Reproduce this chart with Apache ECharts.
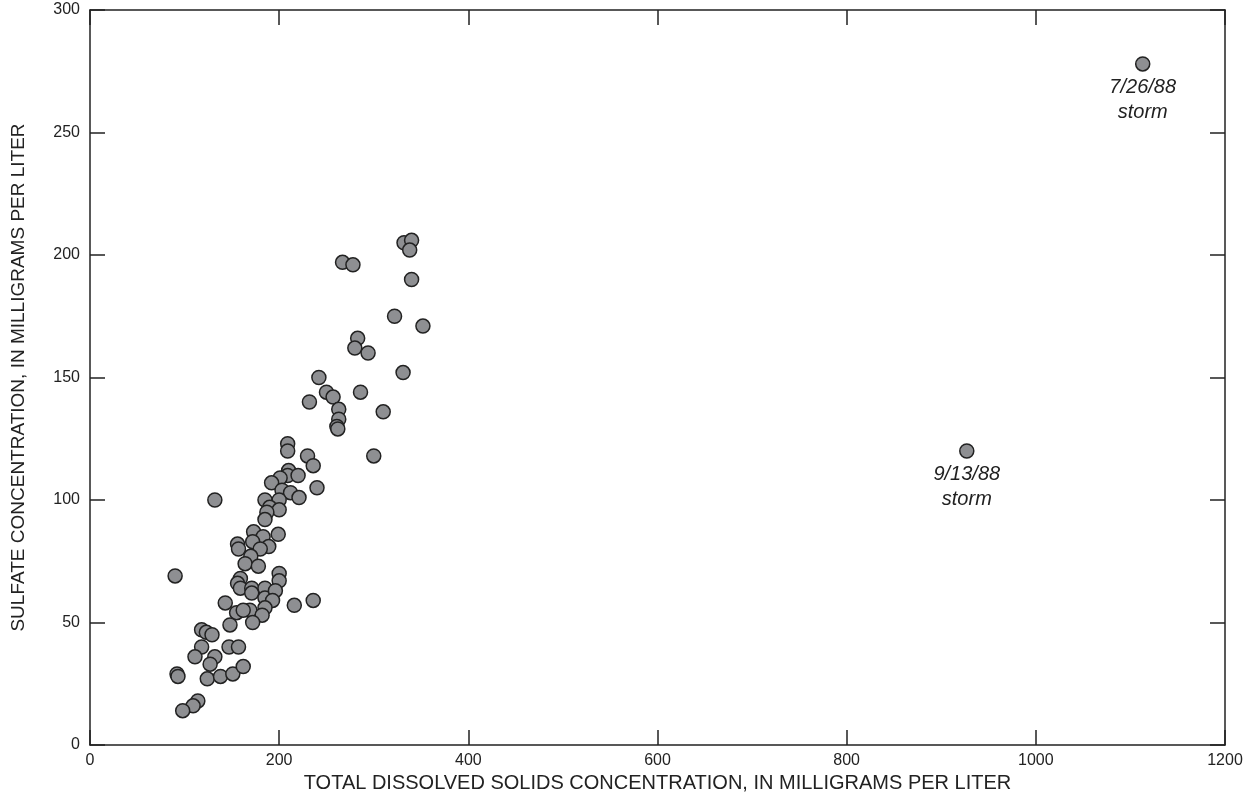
<!DOCTYPE html>
<html>
<head>
<meta charset="utf-8">
<script src="https://cdn.jsdelivr.net/npm/echarts@6/dist/echarts.min.js"></script>
<style>
html,body{margin:0;padding:0;background:#fff;}
#chart{width:1256px;height:811px;}
</style>
</head>
<body>
<div id="chart"></div>
<script>
// Total dissolved solids (mg/L) vs sulfate (mg/L)
const tdsValues = [332,340,338,267,278,340,322,352,283,280,294,242,331,250,257,232,286,263,263,261,262,310,300,
  209,209,230,236,210,209,220,201,192,203,212,221,240,185,200,132,190,200,187,185,199,173,183,156,172,189,180,157,170,164,178,200,200,90,159,156,159,171,171,185,185,196,193,143,185,155,169,162,182,172,148,216,236,
  118,123,129,118,111,132,127,92,93,124,138,151,162,147,157,114,109,98];
const sulfateValues = [205,206,202,197,196,190,175,171,166,162,160,150,152,144,142,140,144,137,133,130,129,136,118,
  123,120,118,114,112,110,110,109,107,104,103,101,105,100,100,100,97,96,95,92,86,87,85,82,83,81,80,80,77,74,73,70,67,69,68,66,64,64,62,64,60,63,59,58,56,54,55,55,53,50,49,57,59,
  47,46,45,40,36,36,33,29,28,27,28,29,32,40,40,18,16,14];
const stormTds = [927,1113];
const stormSulfate = [120,278];
const stormLabels = ['9/13/88\nstorm','7/26/88\nstorm'];
const xTicks = [0,200,400,600,800,1000,1200];
const yTicks = [0,50,100,150,200,250,300];
const xTitle = 'TOTAL DISSOLVED SOLIDS CONCENTRATION, IN MILLIGRAMS PER LITER';
const yTitle = 'SULFATE CONCENTRATION, IN MILLIGRAMS PER LITER';

const mainData = tdsValues.map((v,i)=>[v,sulfateValues[i]]);
const stormData = stormTds.map((v,i)=>({value:[v,stormSulfate[i]], name:stormLabels[i]}));

const font = 'Liberation Sans, Arial, sans-serif';
const lineStyle = {color:'#222', width:1.5};
const tickStyle = {show:true, inside:true, length:15, lineStyle:{color:'#222', width:1.5}};
const xMin = xTicks[0], xMax = xTicks[xTicks.length-1], xInt = xTicks[1]-xTicks[0];
const yMin = yTicks[0], yMax = yTicks[yTicks.length-1], yInt = yTicks[1]-yTicks[0];
const plain = v => String(v);

const chart = echarts.init(document.getElementById('chart'));
chart.setOption({
  animation:false,
  backgroundColor:'#fff',
  grid:{left:90, right:31, top:10, bottom:66, containLabel:false},
  xAxis:[{
    type:'value', min:xMin, max:xMax, interval:xInt, position:'bottom',
    axisLine:{show:true, onZero:false, lineStyle}, axisTick:tickStyle, splitLine:{show:false},
    axisLabel:{color:'#222', fontSize:16, fontFamily:font, margin:8, formatter:plain},
    name:xTitle, nameLocation:'middle', nameGap:14,
    nameTextStyle:{color:'#222', fontSize:20, fontFamily:font}
  },{
    type:'value', min:xMin, max:xMax, interval:xInt, position:'top',
    axisLine:{show:true, onZero:false, lineStyle}, axisTick:tickStyle, splitLine:{show:false},
    axisLabel:{show:false}
  }],
  yAxis:[{
    type:'value', min:yMin, max:yMax, interval:yInt, position:'left',
    axisLine:{show:true, onZero:false, lineStyle}, axisTick:tickStyle, splitLine:{show:false},
    axisLabel:{color:'#222', fontSize:16, fontFamily:font, margin:10, formatter:plain},
    name:yTitle, nameLocation:'middle', nameGap:62, nameRotate:90,
    nameTextStyle:{color:'#222', fontSize:19, fontFamily:font}
  },{
    type:'value', min:yMin, max:yMax, interval:yInt, position:'right',
    axisLine:{show:true, onZero:false, lineStyle}, axisTick:tickStyle, splitLine:{show:false},
    axisLabel:{show:false}
  }],
  series:[{
    type:'scatter', data:mainData, symbol:'circle', symbolSize:14,
    itemStyle:{color:'#8e8f92', borderColor:'#222', borderWidth:1.5, opacity:1}
  },{
    type:'scatter', data:stormData, symbol:'circle', symbolSize:14,
    itemStyle:{color:'#8e8f92', borderColor:'#222', borderWidth:1.5, opacity:1},
    label:{show:true, position:'bottom', distance:3, formatter:p=>p.name,
      color:'#222', fontSize:20, fontStyle:'italic', fontFamily:font, lineHeight:25, align:'center'}
  }]
});
</script>
</body>
</html>
